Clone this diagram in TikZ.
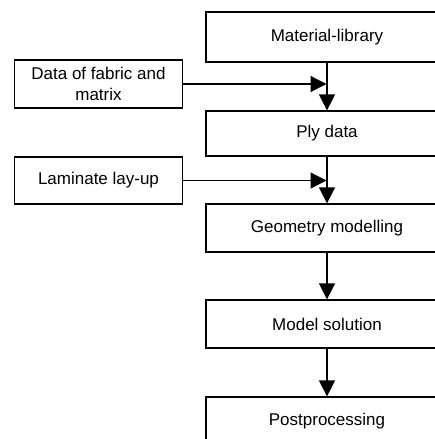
\documentclass[tikz,border=0pt]{standalone}
\usepackage{fontspec}
\setmainfont{Liberation Sans}
\usetikzlibrary{arrows.meta}
\usetikzlibrary{positioning}

\tikzset{
  stepbox/.style={draw=black,line width=1.2pt,rectangle,minimum width=242pt,inner sep=0pt,font=\fontsize{17}{21}\selectfont,align=center},
  inbox/.style={draw=black,line width=1.2pt,rectangle,minimum width=168pt,minimum height=48pt,inner sep=0pt,font=\fontsize{17}{21}\selectfont,align=center},
  flow/.style={line width=1.2pt,-{Triangle[length=16pt,width=16pt]}}
}

\begin{document}
\begin{tikzpicture}[x=1pt,y=1pt]
\useasboundingbox (0,0) rectangle (435,-439);
\node[stepbox,minimum height=50pt] (lib) at (327,-37) {Material-library};
\node[stepbox,minimum height=45pt] (ply) at (327,-133.5) {Ply data};
\node[stepbox,minimum height=48pt] (geo) at (327,-228) {Geometry modelling};
\node[stepbox,minimum height=48pt] (sol) at (327,-324) {Model solution};
\node[stepbox,minimum height=48pt] (post) at (327,-421) {Postprocessing};

\node[inbox] (fab) at (98.5,-84) {Data of fabric and\\matrix};
\node[inbox,minimum height=47pt] (lay) at (98.5,-180.5) {Laminate lay-up};

\coordinate (j1) at (lib.south |- fab.east);
\coordinate (j2) at (ply.south |- lay.east);

\draw[flow] (lib) -- (ply);
\draw[flow] (ply) -- (geo);
\draw[flow] (geo) -- (sol);
\draw[flow] (sol) -- (post);
\draw[flow] (fab.east) -- ([xshift=-0.5pt]j1);
\draw[flow] (lay.east) -- ([xshift=-0.5pt]j2);

\end{tikzpicture}
\end{document}
